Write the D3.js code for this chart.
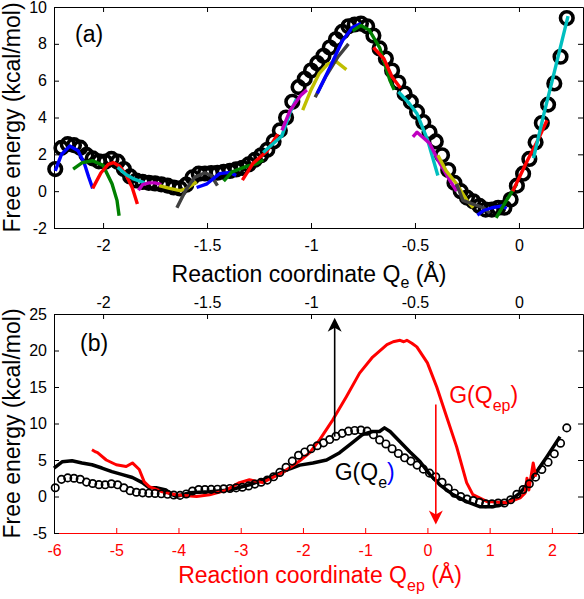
<!DOCTYPE html>
<html><head><meta charset="utf-8">
<script src="https://cdn.jsdelivr.net/npm/d3@7/dist/d3.min.js"></script>
<style>body{margin:0;background:#fff}svg{display:block;font-family:"Liberation Sans",Arial,sans-serif}</style>
</head><body>
<script>
// ---------- data ----------
// G(Qe) circles (shared by both panels, x = Qe)
const qeCirc = [-2.23,-2.20,-2.17,-2.14,-2.11,-2.08,-2.05,-2.02,-1.99,-1.96,-1.93,-1.90,-1.87,-1.84,-1.81,-1.78,-1.75,-1.72,-1.69,-1.66,-1.63,-1.60,-1.57,-1.54,-1.51,-1.48,-1.45,-1.42,-1.39,-1.36,-1.33,-1.30,-1.27,-1.24,-1.21,-1.18,-1.15,-1.12,-1.09,-1.06,-1.03,-1.00,-0.97,-0.94,-0.91,-0.88,-0.85,-0.82,-0.79,-0.76,-0.73,-0.70,-0.67,-0.64,-0.61,-0.58,-0.55,-0.52,-0.49,-0.46,-0.43,-0.40,-0.37,-0.34,-0.31,-0.28,-0.25,-0.22,-0.19,-0.16,-0.13,-0.10,-0.07,-0.04,-0.01,0.02,0.05,0.08,0.11,0.14,0.17,0.20,0.23];
const gCirc = [1.2,2.35,2.55,2.5,2.36,1.97,1.78,1.62,1.6,1.75,1.6,1.2,0.8,0.58,0.5,0.45,0.42,0.37,0.3,0.2,0.15,0.35,0.75,0.95,0.96,0.98,1.0,1.05,1.1,1.18,1.27,1.45,1.7,1.95,2.25,2.7,3.3,4.0,4.85,5.65,6.1,6.55,6.95,7.35,7.8,8.25,8.65,8.95,9.05,9.1,8.95,8.45,7.75,7.2,6.55,5.9,5.3,4.85,4.3,3.75,3.2,2.7,1.95,1.15,0.45,0.0,-0.35,-0.55,-0.8,-1.0,-1.0,-0.9,-0.9,-0.45,0.3,0.95,1.75,2.65,3.7,4.7,5.85,7.3,9.4];

// window segments in panel (a): [Qe, G] pairs
const segments = [
  [[-2.23,1.1],[-2.20,2.0],[-2.16,2.45],[-2.12,2.2],[-2.09,1.5],[-2.07,0.8],[-2.05,0.15]],
  [[-2.144,1.2],[-2.10,1.55],[-2.05,1.65],[-2.0,1.4],[-1.957,0.4],[-1.933,-0.5],[-1.923,-1.33]],
  [[-2.05,0.15],[-2.01,1.0],[-1.975,1.45],[-1.95,1.55],[-1.92,1.35],[-1.89,0.9],[-1.86,0.2],[-1.835,-0.7]],
  [[-1.93,1.3],[-1.89,0.9],[-1.85,0.65],[-1.80,0.45]],
  [[-1.83,0.05],[-1.81,0.35],[-1.78,0.45],[-1.75,0.45],[-1.72,0.35]],
  [[-1.73,0.3],[-1.68,0.15],[-1.63,0.03],[-1.60,0.12],[-1.55,0.5]],
  [[-1.645,-0.9],[-1.60,0.1],[-1.56,0.75],[-1.51,1.0],[-1.48,0.85],[-1.45,0.3]],
  [[-1.55,0.2],[-1.50,0.4],[-1.44,0.95],[-1.39,1.02],[-1.36,0.85]],
  [[-1.42,0.55],[-1.38,1.05],[-1.31,1.35],[-1.26,1.5],[-1.23,1.7]],
  [[-1.33,0.6],[-1.28,1.5],[-1.21,2.2],[-1.16,3.1]],
  [[-1.23,2.1],[-1.18,2.6],[-1.14,3.0],[-1.10,4.3],[-1.07,5.0]],
  [[-1.14,3.3],[-1.10,4.4],[-1.05,5.2],[-1.02,5.5]],
  [[-1.04,4.4],[-1.0,5.5],[-0.96,6.4],[-0.92,6.9],[-0.88,7.05],[-0.83,6.6]],
  [[-0.98,5.1],[-0.93,6.2],[-0.87,7.3],[-0.82,8.0]],
  [[-0.97,5.3],[-0.91,6.7],[-0.85,8.15],[-0.80,8.9],[-0.76,9.1]],
  [[-0.80,8.7],[-0.76,9.0],[-0.72,8.75],[-0.67,7.8],[-0.62,6.0],[-0.60,5.5]],
  [[-0.70,7.8],[-0.65,7.2],[-0.61,6.2],[-0.57,5.6]],
  [[-0.58,5.4],[-0.53,4.8],[-0.49,4.2],[-0.44,2.8],[-0.39,0.85]],
  [[-0.51,2.95],[-0.49,3.2],[-0.43,2.6],[-0.39,1.7],[-0.33,0.55],[-0.30,0.0]],
  [[-0.39,1.95],[-0.35,1.1],[-0.30,0.4],[-0.25,-0.5],[-0.22,-0.9]],
  [[-0.30,0.4],[-0.27,-0.5],[-0.22,-0.7],[-0.17,-0.9],[-0.14,-1.2]],
  [[-0.20,-1.3],[-0.17,-1.05],[-0.13,-0.9],[-0.08,-0.8],[-0.06,-0.95]],
  [[-0.11,-1.45],[-0.06,-0.5],[-0.01,0.4]],
  [[-0.03,0.0],[0.04,1.65],[0.09,2.75],[0.135,3.85]],
  [[0.07,1.8],[0.12,4.2],[0.16,6.0],[0.236,9.5]]
];

// panel (b): black line G(Qe), x in Qep units
const qepBlack = [-6.0,-5.87,-5.71,-5.55,-5.39,-5.23,-5.07,-4.9,-4.74,-4.58,-4.47,-4.36,-4.2,-4.15,-4.04,-3.83,-3.5,-3.18,-2.86,-2.54,-2.21,-2.05,-1.84,-1.62,-1.41,-1.2,-1.04,-0.88,-0.77,-0.69,-0.6,-0.44,-0.28,-0.12,0.04,0.2,0.41,0.63,0.84,1.05,1.28,1.49,1.7,1.92,2.13];
const gBlack   = [3.9,4.75,4.9,4.6,4.35,3.9,3.4,3.0,2.6,1.9,1.2,1.2,0.9,0.5,0.0,0.5,0.65,0.9,1.6,2.6,3.8,4.3,4.6,5.0,6.0,7.4,8.5,8.9,8.9,9.4,8.9,7.5,6.1,4.8,3.0,1.6,0.25,-0.7,-1.4,-1.4,-0.85,0.5,2.7,5.45,8.2];
// panel (b): red line G(Qep)
const qepRed = [-5.39,-5.33,-5.3,-5.16,-5.0,-4.84,-4.74,-4.63,-4.55,-4.47,-4.26,-4.04,-3.71,-3.5,-3.25,-3.02,-2.86,-2.65,-2.33,-2.05,-1.89,-1.73,-1.52,-1.3,-1.09,-0.88,-0.65,-0.55,-0.44,-0.38,-0.33,-0.25,-0.17,0.0,0.15,0.31,0.47,0.63,0.73,0.96,1.28,1.49,1.57,1.6,1.63,1.7,1.74];
const gRed   = [6.4,6.1,6.0,5.0,4.35,4.1,4.6,3.7,2.0,1.35,0.65,0.25,0.0,0.25,0.8,1.9,2.3,1.9,3.25,4.9,6.0,7.8,10.5,13.7,16.9,19.1,20.8,21.2,21.4,21.2,21.4,21.0,20.5,18.3,15.0,10.9,6.8,1.9,0.25,-0.7,-0.85,-0.2,0.5,2.5,0.9,4.6,2.7];

// arrows in panel (b) (Qep, from G, to G)
const arrowBlack = [-1.49, 8.2, 24.5];
const arrowRed = [0.135, 12.6, -3.85];

// ticks
const ticksQe = [-2,-1.5,-1,-0.5,0];
const ticksGa = [-2,0,2,4,6,8,10];
const ticksGb = [-5,0,5,10,15,20,25];
const ticksQep = [-6,-5,-4,-3,-2,-1,0,1,2];

// ---------- drawing ----------
const W=584,H=599;
const palette = ["#0000ff","#008000","#ff0000","#00bfbf","#bf00bf","#bfbf00","#404040"];
const svg = d3.select("body").append("svg").attr("width",W).attr("height",H);

const L=54,R=583;
const xA = d3.scaleLinear().domain([-2.236,0.308]).range([L,R]);
const yA = d3.scaleLinear().domain([-2,10]).range([228,7]);
const xB = d3.scaleLinear().domain([-6,2.5]).range([L,R]);
const yB = d3.scaleLinear().domain([-5,25]).range([533,314]);
const fmt = d => String(d);

function styleAxis(g, color, fs){
  g.selectAll("path.domain").attr("stroke",color).attr("stroke-width",1);
  g.selectAll(".tick line").attr("stroke",color).attr("stroke-width",1);
  g.selectAll(".tick text").attr("fill",color).style("font-size",fs+"px").style("font-family","'Liberation Sans',Arial,sans-serif");
}

// ----- panel (a) -----
const pa = svg.append("g");
let g;
g = pa.append("g").attr("transform",`translate(0,${yA.range()[0]})`).call(d3.axisBottom(xA).tickValues(ticksQe).tickFormat(fmt).tickSizeInner(-5).tickSizeOuter(0).tickPadding(12));
styleAxis(g,"#000",16);
g = pa.append("g").attr("transform",`translate(0,${yA.range()[1]})`).call(d3.axisTop(xA).tickValues(ticksQe).tickFormat("").tickSizeInner(-5).tickSizeOuter(0));
styleAxis(g,"#000",16);
g = pa.append("g").attr("transform",`translate(${L},0)`).call(d3.axisLeft(yA).tickValues(ticksGa).tickFormat(fmt).tickSizeInner(-5).tickSizeOuter(0).tickPadding(7));
styleAxis(g,"#000",16);
g = pa.append("g").attr("transform",`translate(${R},0)`).call(d3.axisRight(yA).tickValues(ticksGa).tickFormat("").tickSizeInner(-5).tickSizeOuter(0));
styleAxis(g,"#000",16);

const circA = qeCirc.map((q,i)=>[q,gCirc[i]]);
pa.append("g").selectAll("circle").data(circA).join("circle")
  .attr("cx",d=>xA(d[0])).attr("cy",d=>yA(d[1])).attr("r",6.3)
  .attr("fill","none").attr("stroke","#000").attr("stroke-width",3.6);
const lineAraw = d3.line().x(d=>xA(d[0])).y(d=>yA(d[1]));
pa.append("g").selectAll("path").data(segments).join("path")
  .attr("d",d=>lineAraw(d)).attr("fill","none")
  .attr("stroke",(d,i)=>palette[i%palette.length]).attr("stroke-width",3.4).attr("stroke-linejoin","round");

pa.append("text").attr("x",75).attr("y",42).style("font-size","23px").text("(a)");
pa.append("text").attr("transform",`translate(20,${(yA.range()[0]+yA.range()[1])/2}) rotate(-90)`)
  .attr("text-anchor","middle").style("font-size","23px").text("Free energy (kcal/mol)");
const ta = pa.append("text").attr("x",309).attr("y",282).attr("text-anchor","middle").style("font-size","23px");
ta.append("tspan").text("Reaction coordinate Q");
ta.append("tspan").attr("dy",6).style("font-size","16px").text("e");
ta.append("tspan").attr("dy",-6).text(" (Å)");

// ----- panel (b) -----
const pb = svg.append("g");
g = pb.append("g").attr("transform",`translate(0,${yB.range()[0]})`).call(d3.axisBottom(xB).tickValues(ticksQep).tickFormat(fmt).tickSizeInner(-5).tickSizeOuter(0).tickPadding(12));
styleAxis(g,"#ff0000",16);
g = pb.append("g").attr("transform",`translate(0,${yB.range()[1]})`).call(d3.axisTop(xA).tickValues(ticksQe).tickFormat(fmt).tickSizeInner(-5).tickSizeOuter(0).tickPadding(6));
styleAxis(g,"#000",16);
g = pb.append("g").attr("transform",`translate(${L},0)`).call(d3.axisLeft(yB).tickValues(ticksGb).tickFormat(fmt).tickSizeInner(-5).tickSizeOuter(0).tickPadding(7));
styleAxis(g,"#000",16);
g = pb.append("g").attr("transform",`translate(${R},0)`).call(d3.axisRight(yB).tickValues(ticksGb).tickFormat("").tickSizeInner(-5).tickSizeOuter(0));
styleAxis(g,"#000",16);

const lineB = d3.line().x(d=>xB(d[0])).y(d=>yB(d[1]));
pb.append("path").datum(qepBlack.map((q,i)=>[q,gBlack[i]])).attr("d",lineB)
  .attr("fill","none").attr("stroke","#000").attr("stroke-width",3.5).attr("stroke-linejoin","round");
pb.append("path").datum(qepRed.map((q,i)=>[q,gRed[i]])).attr("d",lineB)
  .attr("fill","none").attr("stroke","#ff0000").attr("stroke-width",3).attr("stroke-linejoin","round");
pb.append("g").selectAll("circle").data(circA).join("circle")
  .attr("cx",d=>xA(d[0])).attr("cy",d=>yB(d[1])).attr("r",3.7)
  .attr("fill","none").attr("stroke","#000").attr("stroke-width",1.7);

function arrow(a,color){
  const x=xB(a[0]), y0=yB(a[1]), y1=yB(a[2]);
  const dir = y1<y0 ? 1 : -1; // 1 = pointing up
  pb.append("line").attr("x1",x).attr("x2",x).attr("y1",y0).attr("y2",y1+dir*8)
    .attr("stroke",color).attr("stroke-width",1.6);
  const hl=14, hw=7;
  pb.append("path").attr("d",`M${x},${y1} L${x-hw},${y1+dir*hl} L${x},${y1+dir*(hl-4)} L${x+hw},${y1+dir*hl} Z`)
    .attr("fill",color);
}
arrow(arrowBlack,"#000");
arrow(arrowRed,"#ff0000");

const t1 = pb.append("text").attr("x",xB(0.35)).attr("y",yB(12.8)).attr("fill","#ff0000").style("font-size","23px");
t1.append("tspan").text("G(Q");
t1.append("tspan").attr("dy",8).style("font-size","16px").text("ep");
t1.append("tspan").attr("dy",-8).text(")");
const t2 = pb.append("text").attr("x",xB(-1.49)).attr("y",yB(2.26)).attr("fill","#000").style("font-size","23px");
t2.append("tspan").text("G(Q");
t2.append("tspan").attr("dy",8).style("font-size","16px").text("e");
t2.append("tspan").attr("dy",-8).attr("fill","#0000ff").text(")");

pb.append("text").attr("x",80).attr("y",351).style("font-size","23px").text("(b)");
pb.append("text").attr("transform",`translate(20,${(yB.range()[0]+yB.range()[1])/2}) rotate(-90)`)
  .attr("text-anchor","middle").style("font-size","23px").text("Free energy (kcal/mol)");
const tb = pb.append("text").attr("x",320).attr("y",583).attr("text-anchor","middle").attr("fill","#ff0000").style("font-size","23px");
tb.append("tspan").text("Reaction coordinate Q");
tb.append("tspan").attr("dy",8).style("font-size","16px").text("ep");
tb.append("tspan").attr("dy",-8).text(" (Å)");
</script>
</body></html>
